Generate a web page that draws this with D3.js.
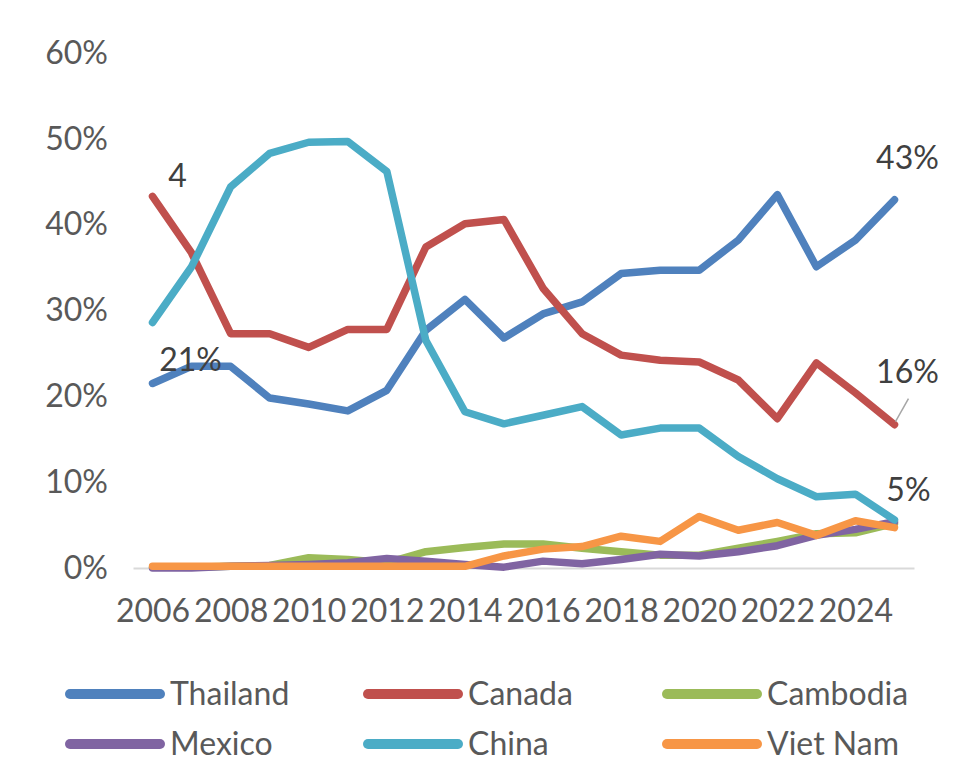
<!DOCTYPE html>
<html>
<head>
<meta charset="utf-8">
<script src="https://cdn.jsdelivr.net/npm/d3@7"></script>
<style>
  html, body { margin: 0; padding: 0; background: #fff; }
  #chart { width: 980px; height: 775px; }
  text { font-family: Lato, "Open Sans", sans-serif; }
</style>
</head>
<body>
<div id="chart"></div>
<script>
// Share of imports by origin, 2006-2025 (percent)
const years = d3.range(2006, 2026);
const tickYears = [2006, 2008, 2010, 2012, 2014, 2016, 2018, 2020, 2022, 2024];
const yTicks = [0, 10, 20, 30, 40, 50, 60];

const thailand = [21.5, 23.5, 23.5, 19.8, 19.1, 18.3, 20.7, 27.7, 31.3, 26.8, 29.6, 31.0, 34.3, 34.7, 34.7, 38.2, 43.5, 35.1, 38.2, 42.9];
const canada   = [43.3, 36.7, 27.3, 27.3, 25.7, 27.8, 27.8, 37.4, 40.1, 40.6, 32.6, 27.3, 24.8, 24.2, 24.0, 21.9, 17.4, 23.9, 20.4, 16.7];
const cambodia = [0.1, 0.1, 0.2, 0.3, 1.2, 1.0, 0.6, 1.9, 2.4, 2.8, 2.8, 2.3, 1.9, 1.5, 1.5, 2.3, 3.1, 4.0, 4.1, 5.2];
const mexico   = [0.0, 0.0, 0.2, 0.3, 0.4, 0.6, 1.1, 0.8, 0.4, 0.1, 0.8, 0.5, 1.0, 1.6, 1.4, 1.9, 2.6, 3.8, 4.5, 5.4];
const china    = [28.6, 35.1, 44.4, 48.3, 49.6, 49.7, 46.2, 26.5, 18.2, 16.8, 17.8, 18.8, 15.5, 16.3, 16.3, 13.0, 10.4, 8.3, 8.6, 5.6];
const vietnam  = [0.2, 0.2, 0.2, 0.2, 0.2, 0.2, 0.2, 0.2, 0.2, 1.4, 2.2, 2.5, 3.7, 3.1, 6.0, 4.4, 5.3, 3.8, 5.5, 4.7];

// drawing order follows the legend (later series on top)
const series = [
  { name: 'Thailand', color: '#4F81BD', values: thailand },
  { name: 'Canada',   color: '#C0504D', values: canada },
  { name: 'Cambodia', color: '#9BBB59', values: cambodia },
  { name: 'Mexico',   color: '#8064A2', values: mexico },
  { name: 'China',    color: '#4BACC6', values: china },
  { name: 'Viet Nam', color: '#F79646', values: vietnam }
];

const W = 980, H = 775;
const svg = d3.select('#chart').append('svg')
  .attr('width', W).attr('height', H)
  .style('display', 'block');

const x = d3.scalePoint().domain(years).range([133, 914]).padding(0.5);
const y = d3.scaleLinear().domain([0, 60]).range([568, 53]);

const fontSize = 32;
const textColor = '#595959';

// y axis (labels only)
const yAxis = svg.append('g')
  .attr('transform', 'translate(108,0)')
  .call(d3.axisLeft(y).tickValues(yTicks).tickSize(0).tickPadding(0).tickFormat(d => d + '%'));
yAxis.select('.domain').remove();
yAxis.selectAll('text')
  .attr('font-size', fontSize)
  .attr('fill', textColor)
  .style('font-family', 'Lato, "Open Sans", sans-serif');

// x axis
const xAxis = svg.append('g')
  .attr('transform', `translate(0,${y(0)})`)
  .call(d3.axisBottom(x).tickValues(tickYears).tickSize(0).tickPadding(31));
xAxis.select('.domain').attr('stroke', '#D9D9D9').attr('stroke-width', 2);
xAxis.selectAll('text')
  .attr('font-size', fontSize)
  .attr('fill', textColor)
  .style('font-family', 'Lato, "Open Sans", sans-serif');

// lines
const line = d3.line()
  .x((d, i) => x(years[i]))
  .y(d => y(d));

svg.append('g').selectAll('path.series')
  .data(series)
  .join('path')
  .attr('class', 'series')
  .attr('d', d => line(d.values))
  .attr('fill', 'none')
  .attr('stroke', d => d.color)
  .attr('stroke-width', 7.5)
  .attr('stroke-linejoin', 'round')
  .attr('stroke-linecap', 'round');

// data labels
const labelColor = '#404040';
const last = years.length - 1;
const labels = [
  { text: '21%', x: x(years[0]) + 38, y: y(thailand[0]) - 24 },
  { text: '4',   x: x(years[0]) + 25, y: y(canada[0]) - 21 },
  { text: '43%', x: x(years[last]) + 13, y: y(thailand[last]) - 42 },
  { text: '16%', x: x(years[last]) + 13, y: y(canada[last]) - 53 },
  { text: '5%',  x: x(years[last]) + 14, y: y(china[last]) - 30 }
];

// leader line for Canada label
svg.append('line')
  .attr('x1', x(years[last]) + 14).attr('y1', y(canada[last]) - 26)
  .attr('x2', x(years[last]) + 1).attr('y2', y(canada[last]) - 3)
  .attr('stroke', '#A6A6A6').attr('stroke-width', 1.5);

svg.append('g').selectAll('text')
  .data(labels)
  .join('text')
  .attr('x', d => d.x)
  .attr('y', d => d.y)
  .attr('text-anchor', 'middle')
  .attr('dy', '0.35em')
  .attr('font-size', fontSize)
  .attr('fill', labelColor)
  .text(d => d.text);

// legend
const legendCols = [70, 368, 667];
const legendRows = [694, 744];
const legend = svg.append('g').selectAll('g')
  .data(series)
  .join('g')
  .attr('transform', (d, i) => `translate(${legendCols[i % 3]},${legendRows[Math.floor(i / 3)]})`);

legend.append('line')
  .attr('x1', 0).attr('x2', 90)
  .attr('y1', 0).attr('y2', 0)
  .attr('stroke', d => d.color)
  .attr('stroke-width', 10)
  .attr('stroke-linecap', 'round');

legend.append('text')
  .attr('x', 100)
  .attr('y', 0)
  .attr('dy', '0.35em')
  .attr('font-size', fontSize)
  .attr('fill', textColor)
  .text(d => d.name);
</script>
</body>
</html>
